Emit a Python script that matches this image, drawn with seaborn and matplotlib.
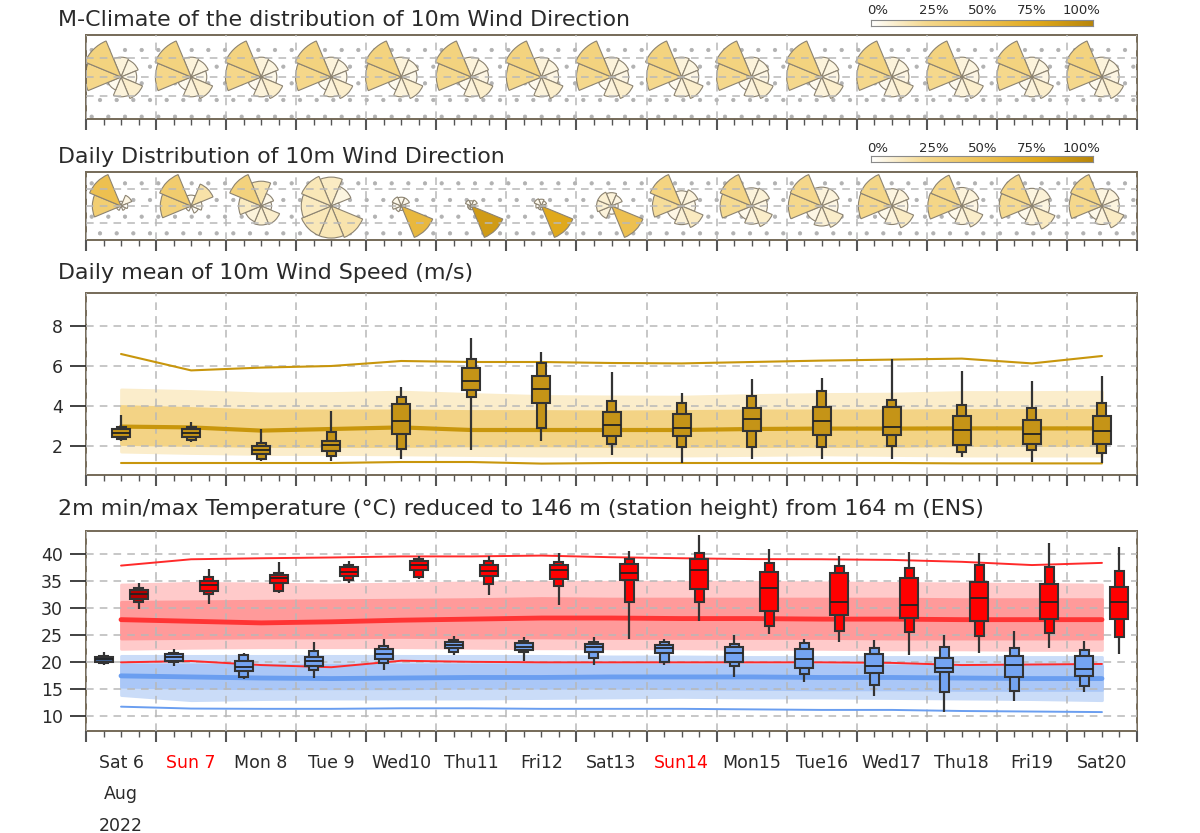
import numpy as np
import matplotlib
matplotlib.use("Agg")
import matplotlib.pyplot as plt
import matplotlib.patches as mpatches
from matplotlib.colors import LinearSegmentedColormap
import seaborn as sns

# ---------------- data ----------------
day_labels = ["Sat 6", "Sun 7", "Mon 8", "Tue 9", "Wed10", "Thu11", "Fri12", "Sat13",
              "Sun14", "Mon15", "Tue16", "Wed17", "Thu18", "Fri19", "Sat20"]
month_label = "Aug"
year_label = "2022"

# sector frequencies (%) in order N, NE, E, SE, S, SW, W, NW
directions = [0, 45, 90, 135, 180, 225, 270, 315]
clim_rose = [
    [8, 7, 5, 11, 8, 4, 26, 31],
    [8, 7, 5, 11, 8, 4, 26, 31],
    [8, 7, 5, 11, 8, 4, 26, 31],
    [8, 7, 5, 11, 8, 4, 26, 31],
    [8, 7, 5, 11, 8, 4, 26, 31],
    [8, 7, 6, 11, 8, 4, 25, 31],
    [8, 7, 6, 11, 8, 4, 25, 31],
    [8, 7, 6, 11, 8, 4, 25, 31],
    [8, 7, 6, 11, 8, 4, 25, 31],
    [8, 7, 6, 11, 8, 4, 25, 31],
    [8, 7, 6, 11, 8, 4, 25, 31],
    [8, 7, 6, 11, 8, 4, 25, 31],
    [8, 7, 6, 11, 8, 4, 25, 31],
    [8, 7, 6, 11, 8, 4, 25, 31],
    [8, 7, 6, 11, 8, 4, 25, 31],
]
daily_rose = [
    [1, 6, 2, 1, 0, 1, 37, 52],
    [4, 19, 4, 2, 0, 1, 32, 39],
    [17, 5, 3, 11, 10, 8, 14, 32],
    [13, 7, 1, 18, 16, 16, 14, 16],
    [4, 4, 1, 60, 1, 2, 4, 5],
    [2, 3, 1, 85, 1, 1, 1, 3],
    [3, 2, 1, 75, 1, 1, 2, 4],
    [8, 6, 2, 52, 3, 8, 10, 10],
    [6, 8, 5, 14, 9, 6, 22, 30],
    [8, 9, 6, 12, 8, 5, 24, 28],
    [8, 8, 6, 12, 9, 6, 25, 26],
    [7, 8, 6, 13, 8, 5, 26, 27],
    [8, 8, 6, 12, 8, 5, 27, 26],
    [7, 9, 7, 14, 8, 5, 24, 26],
    [7, 8, 7, 13, 8, 5, 25, 27],
]

# 10m wind speed ensemble (m/s)
wind_min = [2.25, 2.18, 1.27, 1.27, 1.33, 1.8, 2.25, 1.57, 1.17, 1.33, 1.33, 1.33, 1.43, 1.2, 1.17]
wind_p10 = [2.35, 2.3, 1.33, 1.52, 1.85, 4.43, 2.92, 2.08, 1.97, 1.95, 1.95, 2.02, 1.72, 1.78, 1.65]
wind_p25 = [2.47, 2.45, 1.58, 1.73, 2.6, 4.8, 4.13, 2.48, 2.48, 2.73, 2.53, 2.53, 2.05, 2.12, 2.08]
wind_med = [2.67, 2.65, 1.78, 2.03, 3.23, 5.27, 4.83, 3.05, 2.92, 3.35, 3.27, 2.93, 2.78, 2.58, 2.73]
wind_p75 = [2.87, 2.83, 2.0, 2.25, 4.12, 5.88, 5.5, 3.72, 3.6, 3.92, 3.93, 3.93, 3.48, 3.28, 3.48]
wind_p90 = [2.97, 2.97, 2.17, 2.68, 4.45, 6.35, 6.17, 4.23, 4.13, 4.5, 4.77, 4.28, 4.03, 3.88, 4.13]
wind_max = [3.55, 3.18, 2.83, 3.77, 4.93, 7.38, 6.72, 5.68, 4.63, 5.33, 5.38, 6.33, 5.77, 5.23, 5.5]

# wind M-climate
wind_clim_hi = [6.6, 5.78, 5.92, 6.0, 6.25, 6.2, 6.2, 6.15, 6.13, 6.2, 6.27, 6.32, 6.37, 6.13, 6.5]
wind_clim_light_hi = [4.83, 4.75, 4.63, 4.65, 4.72, 4.6, 4.5, 4.48, 4.47, 4.55, 4.6, 4.62, 4.7, 4.7, 4.72]
wind_clim_dark_hi = [4.0, 3.9, 3.78, 3.78, 3.78, 3.75, 3.75, 3.73, 3.75, 3.78, 3.78, 3.78, 3.8, 3.8, 3.8]
wind_clim_med = [2.97, 2.93, 2.77, 2.85, 2.93, 2.8, 2.8, 2.8, 2.8, 2.85, 2.87, 2.87, 2.88, 2.88, 2.88]
wind_clim_dark_lo = [2.1, 2.05, 2.0, 2.0, 2.0, 2.03, 2.03, 2.0, 2.0, 2.0, 2.0, 2.0, 2.05, 2.05, 2.05]
wind_clim_light_lo = [1.72, 1.65, 1.6, 1.6, 1.58, 1.55, 1.52, 1.52, 1.52, 1.55, 1.58, 1.55, 1.52, 1.52, 1.52]
wind_clim_lo = [1.15, 1.15, 1.15, 1.15, 1.2, 1.2, 1.12, 1.15, 1.15, 1.15, 1.15, 1.15, 1.13, 1.13, 1.13]

# 2m min temperature ensemble
tmin_min = [19.5, 19.26, 16.85, 17.04, 18.58, 21.3, 20.3, 19.5, 19.44, 17.35, 16.3, 13.83, 10.8, 12.78, 14.45]
tmin_p10 = [19.9, 20.06, 17.35, 18.6, 19.94, 22.0, 21.85, 20.74, 20.12, 19.32, 17.84, 15.9, 14.57, 14.75, 15.62]
tmin_p25 = [20.1, 20.3, 18.4, 19.4, 20.68, 22.6, 22.2, 22.0, 21.8, 20.12, 19.0, 17.96, 18.15, 17.35, 17.41]
tmin_med = [20.55, 20.93, 19.2, 20.2, 21.54, 23.2, 22.9, 22.78, 22.6, 21.67, 20.6, 19.4, 19.0, 19.44, 18.7]
tmin_p75 = [21.0, 21.54, 20.3, 21.05, 22.4, 23.83, 23.58, 23.46, 23.3, 22.78, 22.53, 21.54, 20.86, 21.17, 21.23]
tmin_p90 = [21.2, 21.8, 21.3, 22.1, 23.1, 24.2, 23.95, 23.83, 23.83, 23.46, 23.5, 22.6, 22.84, 22.72, 22.28]
tmin_max = [21.85, 22.4, 21.8, 23.7, 24.26, 24.9, 24.7, 24.75, 24.38, 25.0, 24.38, 24.14, 25.0, 25.86, 23.95]

# 2m max temperature ensemble
tmax_min = [29.8, 30.74, 32.9, 34.63, 35.5, 32.47, 30.6, 24.3, 27.65, 25.25, 23.7, 21.36, 21.67, 22.72, 21.54]
tmax_p10 = [31.17, 32.65, 33.27, 35.3, 35.86, 34.5, 34.2, 31.1, 31.23, 26.8, 25.86, 25.68, 24.88, 25.43, 24.63]
tmax_p25 = [31.73, 33.27, 34.75, 36.0, 37.04, 36.05, 35.5, 35.25, 33.58, 29.57, 28.77, 28.27, 27.65, 28.1, 27.96]
tmax_med = [32.65, 34.26, 35.56, 36.8, 38.0, 36.98, 37.1, 36.54, 37.1, 33.83, 31.23, 30.56, 31.85, 31.17, 31.1]
tmax_p75 = [33.4, 35.0, 36.23, 37.65, 38.7, 38.1, 38.1, 38.2, 39.14, 36.67, 36.54, 35.56, 34.94, 34.44, 33.9]
tmax_p90 = [33.77, 35.74, 36.6, 38.1, 39.14, 38.83, 38.6, 39.14, 40.3, 38.4, 37.8, 37.53, 38.0, 37.7, 36.85]
tmax_max = [34.63, 37.2, 38.5, 38.83, 39.7, 39.7, 40.3, 40.6, 43.5, 41.05, 39.7, 40.4, 40.2, 42.16, 41.42]

# temperature M-climate
tmax_clim_hi = [37.9, 39.07, 39.26, 39.4, 39.6, 39.6, 39.75, 39.45, 39.26, 39.1, 39.07, 38.95, 38.6, 38.0, 38.4]
tmax_clim_light_hi = [34.4, 34.7, 34.6, 34.4, 34.6, 34.8, 34.9, 34.9, 34.9, 34.9, 34.8, 34.7, 34.6, 34.5, 34.4]
tmax_clim_dark_hi = [31.2, 31.3, 31.4, 31.5, 31.6, 31.7, 31.9, 31.8, 31.8, 31.8, 31.8, 31.8, 31.7, 31.7, 31.7]
tmax_clim_med = [27.9, 27.6, 27.3, 27.5, 27.8, 28.0, 28.2, 28.2, 28.1, 28.1, 28.0, 28.0, 27.9, 27.9, 27.9]
tmax_clim_dark_lo = [24.4, 24.5, 24.6, 24.6, 24.7, 24.6, 24.6, 24.5, 24.5, 24.5, 24.5, 24.4, 24.4, 24.4, 24.4]
tmax_clim_light_lo = [22.5, 22.7, 22.8, 22.8, 22.8, 22.7, 22.6, 22.6, 22.6, 22.5, 22.5, 22.4, 22.4, 22.3, 22.3]
tmax_clim_lo = [20.0, 20.25, 19.5, 19.1, 20.3, 20.1, 20.0, 20.0, 20.0, 20.0, 20.0, 19.9, 19.5, 19.6, 19.7]

tmin_clim_light_hi = [21.2, 21.2, 21.2, 21.2, 21.2, 21.2, 21.2, 21.1, 21.1, 21.0, 21.0, 21.0, 21.0, 21.0, 21.0]
tmin_clim_dark_hi = [19.6, 19.6, 19.5, 19.5, 19.6, 19.6, 19.6, 19.6, 19.5, 19.5, 19.5, 19.4, 19.4, 19.4, 19.4]
tmin_clim_med = [17.5, 17.3, 17.1, 17.0, 17.1, 17.2, 17.2, 17.3, 17.3, 17.3, 17.2, 17.2, 17.1, 17.0, 17.0]
tmin_clim_dark_lo = [15.5, 15.3, 15.2, 15.2, 15.2, 15.3, 15.3, 15.3, 15.2, 15.1, 15.0, 15.0, 14.9, 14.9, 14.9]
tmin_clim_light_lo = [13.95, 13.0, 13.2, 13.3, 13.3, 13.3, 13.4, 13.5, 13.6, 13.5, 13.5, 13.4, 13.3, 13.2, 13.0]
tmin_clim_lo = [11.8, 11.45, 11.4, 11.4, 11.5, 11.5, 11.4, 11.4, 11.4, 11.3, 11.2, 11.2, 11.0, 10.9, 10.8]

# ---------------- style ----------------
sns.set_theme(style="white")
plt.rcParams["font.family"] = ["DejaVu Sans"]
plt.rcParams["hatch.linewidth"] = 0.6

rose_cmap = LinearSegmentedColormap.from_list(
    "rose", ["#ffffff", "#f5d88c", "#eec255", "#e0a91c", "#b8860b"])

SPINE = "#756a58"
GRID = "#b8b8b8"
TXT = "#2a2a2a"
W_PX, H_PX = 1200, 833

fig = plt.figure(figsize=(12, 8.33), dpi=100)


def px_axes(x0, y0, x1, y1):
    return fig.add_axes([x0 / W_PX, 1 - y1 / H_PX, (x1 - x0) / W_PX, (y1 - y0) / H_PX])


ax_c = px_axes(86, 35, 1137, 119)
ax_d = px_axes(86, 172, 1137, 240)
ax_w = px_axes(86, 293, 1137, 475)
ax_t = px_axes(86, 531, 1137, 731)

n_days = len(day_labels)
centers = np.arange(n_days) + 0.5
px_per_day = (1137 - 86) / n_days
quarters = [k / 4 for k in range(n_days * 4) if k % 4]


def style_time_axis(ax):
    ax.set_xlim(0, n_days)
    ax.set_xticks(np.arange(n_days + 1))
    ax.set_xticks(quarters, minor=True)
    ax.tick_params(axis="x", which="major", direction="out", length=8, width=1.5,
                   color="#555555", bottom=True, labelbottom=False)
    ax.tick_params(axis="x", which="minor", direction="out", length=4.5, width=1.0,
                   color="#555555", bottom=True, labelbottom=False)
    ax.grid(True, which="major", color=GRID, ls=(0, (5, 4)), lw=1.1)
    ax.set_axisbelow(False)
    for s in ax.spines.values():
        s.set_visible(True)
        s.set_color(SPINE)
        s.set_linewidth(1.4)


def draw_roses(ax, rows, rmax_px, grid_px):
    h_px = ax.get_position().height * H_PX
    half = h_px / 2 / px_per_day
    ax.set_ylim(-half, half)
    g = grid_px / px_per_day
    ax.set_yticks([-g, 0, g])
    ax.tick_params(axis="y", left=False, labelleft=False)
    style_time_axis(ax)
    ax.add_patch(mpatches.Rectangle((0, 0), 1, 1, transform=ax.transAxes, facecolor="none",
                                    edgecolor="#b2b2b2", lw=0, hatch=".", zorder=1))
    rmax = rmax_px / px_per_day
    for i, freqs in enumerate(rows):
        fmax = max(freqs)
        for d, f in zip(directions, freqs):
            if f <= 0:
                continue
            th = 90 - d
            ax.add_patch(mpatches.Wedge((centers[i], 0), rmax * np.sqrt(f / fmax),
                                        th - 22.5, th + 22.5, facecolor=rose_cmap(f / 100),
                                        edgecolor="#8c8371", lw=0.8, zorder=2))


draw_roses(ax_c, clim_rose, 39, 19)
draw_roses(ax_d, daily_rose, 34, 17)


def colorbar_strip(y_bar, y_lab):
    cax = px_axes(871, y_bar, 1093, y_bar + 6)
    cax.imshow(np.linspace(0, 1, 256)[None, :], aspect="auto", cmap=rose_cmap,
               extent=[0, 100, 0, 1])
    cax.set_xticks([])
    cax.set_yticks([])
    for s in cax.spines.values():
        s.set_visible(True)
        s.set_color("#8a8a8a")
        s.set_linewidth(0.8)
    for pos, lab in zip([3, 28.4, 50.5, 72.5, 94.6], ["0%", "25%", "50%", "75%", "100%"]):
        fig.text((871 + pos * 2.22) / W_PX, 1 - y_lab / H_PX, lab, ha="center", va="center",
                 fontsize=9.5, color=TXT)


colorbar_strip(20, 10)
colorbar_strip(156, 148)


def draw_boxes(ax, x, lo, p10, p25, med, p75, p90, hi, colors):
    wide, narrow = 18 / px_per_day, 9 / px_per_day
    x = np.asarray(x)
    ax.vlines(x, lo, hi, color="#333333", lw=1.6, zorder=3)
    ax.bar(x, np.subtract(p90, p10), bottom=p10, width=narrow, color=colors,
           edgecolor="#333333", lw=1.5, zorder=4)
    ax.bar(x, np.subtract(p75, p25), bottom=p25, width=wide, color=colors,
           edgecolor="#333333", lw=1.5, zorder=5)
    ax.hlines(med, x - wide / 2, x + wide / 2, color="#222222", lw=1.3, zorder=6)


def band(ax, lo, hi, color):
    ax.fill_between(centers, lo, hi, facecolor=color, edgecolor=color, lw=2,
                    joinstyle="round", zorder=1)


def clim_line(ax, y, color, lw):
    sns.lineplot(x=centers, y=y, ax=ax, color=color, lw=lw, zorder=2.6)


# ---- wind speed panel ----
style_time_axis(ax_w)
ax_w.set_ylim(0.55, 9.65)
ax_w.set_yticks([2, 4, 6, 8])
band(ax_w, wind_clim_light_lo, wind_clim_light_hi, "#fbedcb")
band(ax_w, wind_clim_dark_lo, wind_clim_dark_hi, "#f3d385")
clim_line(ax_w, wind_clim_med, "#c8960c", 3.0)
clim_line(ax_w, wind_clim_hi, "#c8960c", 1.5)
clim_line(ax_w, wind_clim_lo, "#c8960c", 1.5)
draw_boxes(ax_w, centers, wind_min, wind_p10, wind_p25, wind_med, wind_p75, wind_p90,
           wind_max, "#c59417")

# ---- temperature panel ----
style_time_axis(ax_t)
ax_t.set_ylim(7.3, 44.3)
ax_t.set_yticks(np.arange(10, 41, 5))
band(ax_t, tmax_clim_light_lo, tmax_clim_light_hi, "#ffcaca")
band(ax_t, tmax_clim_dark_lo, tmax_clim_dark_hi, "#ff9a9a")
band(ax_t, tmin_clim_light_lo, tmin_clim_light_hi, "#cadcf8")
band(ax_t, tmin_clim_dark_lo, tmin_clim_dark_hi, "#aac7f7")
clim_line(ax_t, tmax_clim_med, "#ff3434", 3.5)
clim_line(ax_t, tmin_clim_med, "#6a9ef0", 3.5)
clim_line(ax_t, tmin_clim_lo, "#6a9ef0", 1.4)
clim_line(ax_t, tmax_clim_hi, "#ff2a2a", 1.4)
clim_line(ax_t, tmax_clim_lo, "#ff2a2a", 1.4)

min_colors = ["#3f5f8f" if i == 0 else "#74a4f2" for i in range(n_days)]
max_colors = ["#b40000" if i == 0 else "#ff0000" for i in range(n_days)]
draw_boxes(ax_t, centers - 0.25, tmin_min, tmin_p10, tmin_p25, tmin_med, tmin_p75, tmin_p90,
           tmin_max, min_colors)
draw_boxes(ax_t, centers + 0.25, tmax_min, tmax_p10, tmax_p25, tmax_med, tmax_p75, tmax_p90,
           tmax_max, max_colors)

for ax in (ax_w, ax_t):
    ax.tick_params(axis="y", direction="out", left=True, length=11.5, width=1.3,
                   color="#333333", pad=5, labelsize=12.5, labelcolor=TXT)
    ax.set_xlabel("")
    ax.set_ylabel("")

# day labels under the temperature panel
minor_lab = []
for k in range(n_days * 4):
    if k % 4 == 0:
        continue
    if k % 4 == 2:
        i = k // 4
        minor_lab.append(day_labels[i] + (f"\n{month_label}\n{year_label}" if i == 0 else ""))
    else:
        minor_lab.append("")
ax_t.set_xticks(quarters, minor_lab, minor=True)
ax_t.tick_params(axis="x", which="minor", labelbottom=True, pad=12, labelsize=12.5,
                 labelcolor=TXT)
for lbl, text in zip(ax_t.get_xticklabels(minor=True), minor_lab):
    lbl.set_linespacing(1.95)
    if text.startswith("Sun"):
        lbl.set_color("#ff0000")

# panel titles
titles = [
    (20, "M-Climate of the distribution of 10m Wind Direction"),
    (157, "Daily Distribution of 10m Wind Direction"),
    (273, "Daily mean of 10m Wind Speed (m/s)"),
    (509, "2m min/max Temperature (\u00b0C) reduced to 146 m (station height) from 164 m (ENS)"),
]
for y, t in titles:
    fig.text(58 / W_PX, 1 - y / H_PX, t, ha="left", va="center", fontsize=15.9, color=TXT)

fig.savefig("out.png", dpi=100)
